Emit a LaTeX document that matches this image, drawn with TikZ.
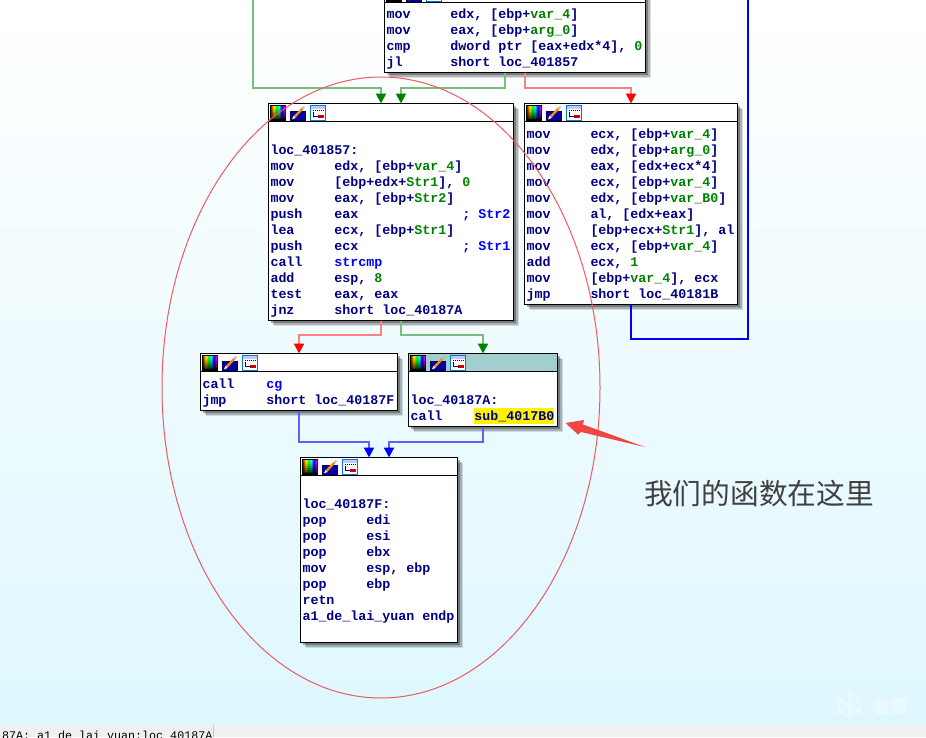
\documentclass[tikz,border=0pt]{standalone}
\usepackage{fontspec}
\newfontfamily\codefont{Liberation Mono}
\newfontfamily\cjkfont{Noto Sans CJK SC}
\newfontfamily\symfont{DejaVu Sans}
\usetikzlibrary{arrows.meta,shadows,calc}
\definecolor{navycode}{RGB}{0,0,128}
\definecolor{greencode}{RGB}{0,128,0}
\definecolor{bluecode}{RGB}{0,0,255}
\definecolor{edgered}{RGB}{255,128,128}
\definecolor{edgegreen}{RGB}{120,190,125}
\definecolor{edgeblue}{RGB}{96,96,255}
\definecolor{tealhead}{RGB}{160,207,205}
\definecolor{arrowred}{RGB}{240,70,65}
\definecolor{ringred}{RGB}{240,90,95}
\definecolor{bgbottom}{RGB}{222,247,255}
\definecolor{barbg}{RGB}{240,240,240}
\newcommand{\cgr}[1]{\textcolor{greencode}{#1}}
\newcommand{\cbl}[1]{\textcolor{bluecode}{#1}}
\newcommand{\blockhead}[1]{%
  \begin{scope}[shift={(#1.north west)}]
    \foreach \c in {0,...,14}{
      \pgfmathsetmacro\huev{\c/16}
      \definecolor{huecell}{hsb}{\huev,1,1}
      \fill[huecell] ({2+\c},2) rectangle ({3.2+\c},17);
    }
    \foreach \r/\o in {2/0,4/.1,6/.22,8/.36,10/.5,12/.66,14/.8,15.5/.92}
      \fill[black,opacity=\o] (2,\r) rectangle (17,{\r+2});
    \draw[black,line width=1pt] (1.5,1.5) rectangle (17,17);
    \fill[blue!65!black] (21.5,7.5) rectangle (37,17);
    \draw[navycode!80!black,line width=1pt] (21.5,7.5) rectangle (37,17);
    \draw[orange!90!yellow,line width=2.4pt] (25.5,14) -- (34,5);
    \draw[blue!30!white,line width=1.6pt] (34,5) -- (36,3);
    \fill[white] (23.5,15.8) -- (25,12.5) -- (27,14.5) -- cycle;
    \fill[white] (41.5,1.5) rectangle (57,17);
    \fill[blue!22!white] (41.5,1.5) rectangle (57,5);
    \draw[blue!45!cyan!85!black,line width=1pt] (41.5,1.5) rectangle (57,17);
    \draw[navycode,line width=1pt,densely dotted] (44,6.5) -- (55,6.5);
    \draw[navycode,line width=.9pt] (45,8) -- (45,12.5) -- (49,12.5);
    \fill[red!80!black] (49,11.5) rectangle (55,14);
  \end{scope}}
\tikzset{
  x=1pt,y=-1pt,
  blockbox/.style={draw=black,fill=white,line width=1.2pt,inner sep=0pt,outer sep=0pt,anchor=north west,
    general shadow={fill=black,fill opacity=.12,shadow xshift=5pt,shadow yshift=-5pt},
    general shadow={fill=black,fill opacity=.2,shadow xshift=4pt,shadow yshift=-4pt},
    general shadow={fill=black,fill opacity=.3,shadow xshift=2.5pt,shadow yshift=-2.5pt}},
  codetext/.style={inner sep=0pt,outer sep=0pt,anchor=north west,align=left,text=navycode,
    font=\codefont\bfseries\fontsize{13.33}{16}\selectfont},
  headrule/.style={draw=black,line width=1.2pt},
  redge/.style={draw=edgered,line width=2pt,-{Triangle[length=10pt,width=10pt,color=red]}},
  gedge/.style={draw=edgegreen,line width=2pt,-{Triangle[length=10pt,width=10pt,color=green!50!black]}},
  bedge/.style={draw=edgeblue,line width=2pt,-{Triangle[length=10pt,width=10pt,color=blue]}},
  bplain/.style={draw=bluecode,line width=2pt},
}
\begin{document}
\begin{tikzpicture}
\clip (0,0) rectangle (926,737);
\shade[top color=white,bottom color=bgbottom] (0,0) rectangle (926,725);
\fill[barbg] (0,725) rectangle (926,737);
\draw[gray!45,line width=.7pt] (213,725) -- (213,737);
\node[anchor=base west,inner sep=0pt,font=\codefont\fontsize{11.67}{14}\selectfont] (status) at (2,739.5) {87A:~a1\_de\_lai\_yuan:loc\_40187A};

% blocks
\node[blockbox,minimum width=261pt,minimum height=88pt] (top) at (384.5,-15.5) {};
\node[blockbox,minimum width=245pt,minimum height=217pt] (main) at (268.5,103.5) {};
\node[blockbox,minimum width=213pt,minimum height=201pt] (body) at (524.5,103.5) {};
\node[blockbox,minimum width=197pt,minimum height=57pt] (cgb) at (200.5,353.5) {};
\node[blockbox,minimum width=149pt,minimum height=73pt] (subb) at (408.5,353.5) {};
\node[blockbox,minimum width=157pt,minimum height=185pt] (endb) at (300.5,457.5) {};
\fill[tealhead] (subb.north west) rectangle ([yshift=-18pt]subb.north east);
\draw[draw=black,line width=1.2pt] (subb.north west) rectangle (subb.south east);
\foreach \b in {top,main,body,cgb,subb,endb}{
  \draw[headrule] ([yshift=-18pt]\b.north west) -- ([yshift=-18pt]\b.north east);
  \blockhead{\b}
}

% code
\node[codetext] (toptext) at ([xshift=2pt,yshift=-22.3pt]top.north west) {\strut
mov~~~~~edx,~[ebp+\cgr{var\_4}]\\
mov~~~~~eax,~[ebp+\cgr{arg\_0}]\\
cmp~~~~~dword~ptr~[eax+edx*4],~\cgr{0}\\
jl~~~~~~short~loc\_401857};
\node[codetext] (maintext) at ([xshift=2pt,yshift=-39.3pt]main.north west) {\strut
loc\_401857:\\
mov~~~~~edx,~[ebp+\cgr{var\_4}]\\
mov~~~~~[ebp+edx+\cgr{Str1}],~\cgr{0}\\
mov~~~~~eax,~[ebp+\cgr{Str2}]\\
push~~~~eax~~~~~~~~~~~~~\cbl{;~Str2}\\
lea~~~~~ecx,~[ebp+\cgr{Str1}]\\
push~~~~ecx~~~~~~~~~~~~~\cbl{;~Str1}\\
call~~~~\cbl{strcmp}\\
add~~~~~esp,~\cgr{8}\\
test~~~~eax,~eax\\
jnz~~~~~short~loc\_40187A};
\node[codetext] (bodytext) at ([xshift=2pt,yshift=-23.3pt]body.north west) {\strut
mov~~~~~ecx,~[ebp+\cgr{var\_4}]\\
mov~~~~~edx,~[ebp+\cgr{arg\_0}]\\
mov~~~~~eax,~[edx+ecx*4]\\
mov~~~~~ecx,~[ebp+\cgr{var\_4}]\\
mov~~~~~edx,~[ebp+\cgr{var\_B0}]\\
mov~~~~~al,~[edx+eax]\\
mov~~~~~[ebp+ecx+\cgr{Str1}],~al\\
mov~~~~~ecx,~[ebp+\cgr{var\_4}]\\
add~~~~~ecx,~\cgr{1}\\
mov~~~~~[ebp+\cgr{var\_4}],~ecx\\
jmp~~~~~short~loc\_40181B};
\node[codetext] (cgtext) at ([xshift=2pt,yshift=-23.3pt]cgb.north west) {\strut
call~~~~\cbl{cg}\\
jmp~~~~~short~loc\_40187F};
\node[codetext] (subtext) at ([xshift=2pt,yshift=-39.3pt]subb.north west) {\strut
loc\_40187A:\\
call~~~~\raisebox{0pt}[10pt][4pt]{\fboxsep=0pt\colorbox{yellow}{\rule[-4pt]{0pt}{16pt}sub\_4017B0}}};
\node[codetext] (endtext) at ([xshift=2pt,yshift=-39.3pt]endb.north west) {\strut
loc\_40187F:\\
pop~~~~~edi\\
pop~~~~~esi\\
pop~~~~~ebx\\
mov~~~~~esp,~ebp\\
pop~~~~~ebp\\
retn\\
a1\_de\_lai\_yuan~endp};

% connectors
\coordinate (gstart) at (253,0);
\coordinate (gbend) at (253,88);
\coordinate (btop) at (748,0);
\draw[gedge] (gstart) -- (gbend) -| ([xshift=112.5pt]main.north west);
\draw[gedge] ([xshift=120.5pt]top.south west) -- ++(0,15.5) -| ([xshift=132.5pt]main.north west);
\draw[redge] ([xshift=140.5pt]top.south west) -- ++(0,15.5) -| ([xshift=106.5pt]body.north west);
\draw[bplain] ([xshift=106.5pt]body.south west) -- ++(0,34.5) -| (btop);
\draw[redge] ([xshift=112.5pt]main.south west) -- ++(0,14.5) -| ([xshift=98.5pt]cgb.north west);
\draw[gedge] ([xshift=132.5pt]main.south west) -- ++(0,14.5) -| ([xshift=74.5pt]subb.north west);
\draw[bedge] ([xshift=98.5pt]cgb.south west) -- ++(0,31.5) -| ([xshift=68.5pt]endb.north west);
\draw[bedge] ([xshift=74.5pt]subb.south west) -- ++(0,15.5) -| ([xshift=88.5pt]endb.north west);

% annotations
\draw[ringred,line width=1pt] (381,387.5) ellipse [x radius=219,y radius=310.5];
\fill[arrowred] (565.5,423) -- (584,420) -- (583,424.5) -- (645,447) -- (581,432) -- (578,434.5) -- cycle;
\node[anchor=west,inner sep=0pt,text=black!75,font=\cjkfont\fontsize{28.7}{30}\selectfont] (note) at (644,493.5) {我们的函数在这里};

% watermark
\node[inner sep=0pt,text=white,opacity=.4,font=\symfont\fontsize{40}{42}\selectfont] (flake) at (850,706) {❄};
\node[inner sep=0pt,text=white,opacity=.4,font=\cjkfont\bfseries\fontsize{18}{20}\selectfont] (mark) at (890,707) {看雪};
\end{tikzpicture}
\end{document}
